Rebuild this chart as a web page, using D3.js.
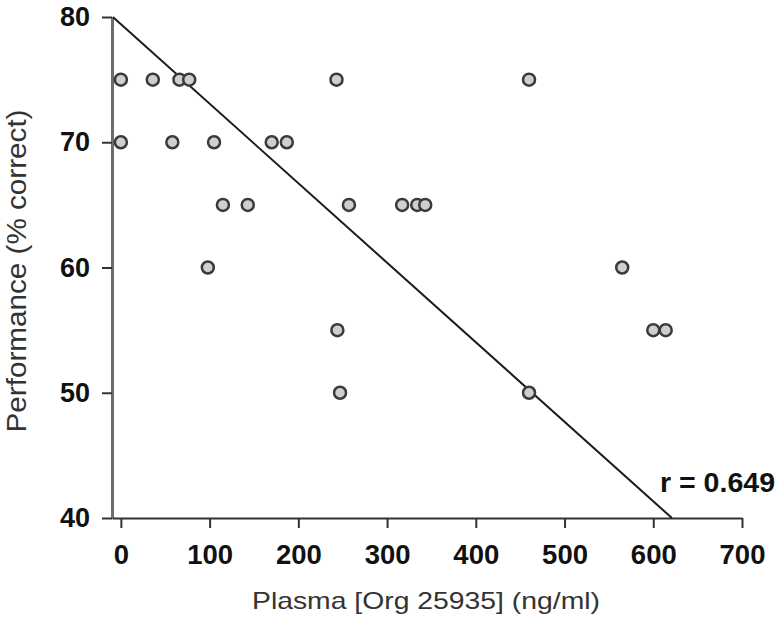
<!DOCTYPE html>
<html>
<head>
<meta charset="utf-8">
<script src="https://cdn.jsdelivr.net/npm/d3@7"></script>
<style>
  body { margin: 0; background: #fff; }
  text { font-family: "Liberation Sans", Arial, sans-serif; }
  .axis text { font-size: 27px; font-weight: bold; fill: #111; }
  .axis line { stroke: #333; stroke-width: 2; }
</style>
</head>
<body>
<script>
// plasma concentration (ng/ml) and performance (% correct)
const plasma = [0, 36, 66, 77, 243, 460,
                0, 58, 105, 170, 187,
                115, 143, 257, 317, 334, 343,
                98, 565,
                244, 600, 614,
                247, 460];
const performance = [75, 75, 75, 75, 75, 75,
                     70, 70, 70, 70, 70,
                     65, 65, 65, 65, 65, 65,
                     60, 60,
                     55, 55, 55,
                     50, 50];
const xTicks = [0, 100, 200, 300, 400, 500, 600, 700];
const yTicks = [40, 50, 60, 70, 80];
const fitLine = [{x: -9, y: 80}, {x: 621, y: 40}];
const rLabel = "r = 0.649";

const width = 777, height = 619;

const x = d3.scaleLinear().domain([-10, 700]).range([112, 742]);
const y = d3.scaleLinear().domain([40, 80]).range([518, 17]);

const svg = d3.select('body').append('svg')
    .attr('width', width)
    .attr('height', height);

// y axis
const yAxis = svg.append('g')
    .attr('class', 'axis y')
    .attr('transform', 'translate(112,0)')
    .call(d3.axisLeft(y).tickValues(yTicks).tickSize(10).tickSizeOuter(0).tickPadding(12));
yAxis.select('.domain').attr('stroke', '#6e6e6e').attr('stroke-width', 3);

// x axis
const xAxis = svg.append('g')
    .attr('class', 'axis x')
    .attr('transform', 'translate(0,518)')
    .call(d3.axisBottom(x).tickValues(xTicks).tickSize(10).tickSizeOuter(0).tickPadding(17));
xAxis.select('.domain').attr('stroke', '#333').attr('stroke-width', 2);
xAxis.selectAll('text').attr('textLength', function() { return this.textContent.length * 15.3; })
    .attr('lengthAdjust', 'spacingAndGlyphs');

// regression line
svg.append('line')
    .attr('x1', x(fitLine[0].x)).attr('y1', y(fitLine[0].y))
    .attr('x2', x(fitLine[1].x)).attr('y2', y(fitLine[1].y))
    .attr('stroke', '#1a1a1a')
    .attr('stroke-width', 2);

// points
svg.selectAll('circle.pt')
    .data(plasma.map((p, i) => ({x: p, y: performance[i]})))
    .enter().append('circle')
    .attr('class', 'pt')
    .attr('cx', d => x(d.x))
    .attr('cy', d => y(d.y))
    .attr('r', 6)
    .attr('fill', '#cfcfcf')
    .attr('stroke', '#3a3a3a')
    .attr('stroke-width', 2.5);

// r value
svg.append('text')
    .attr('x', 660).attr('y', 492)
    .attr('font-size', 27)
    .attr('font-weight', 'bold')
    .attr('fill', '#111')
    .attr('textLength', 115)
    .attr('lengthAdjust', 'spacingAndGlyphs')
    .text(rLabel);

// axis titles
svg.append('text')
    .attr('x', 426).attr('y', 609)
    .attr('text-anchor', 'middle')
    .attr('font-size', 24)
    .attr('fill', '#333')
    .attr('textLength', 348)
    .attr('lengthAdjust', 'spacingAndGlyphs')
    .text('Plasma [Org 25935] (ng/ml)');

svg.append('text')
    .attr('transform', 'translate(26,271) rotate(-90)')
    .attr('text-anchor', 'middle')
    .attr('font-size', 27)
    .attr('fill', '#333')
    .attr('textLength', 323)
    .attr('lengthAdjust', 'spacingAndGlyphs')
    .text('Performance (% correct)');
</script>
</body>
</html>
